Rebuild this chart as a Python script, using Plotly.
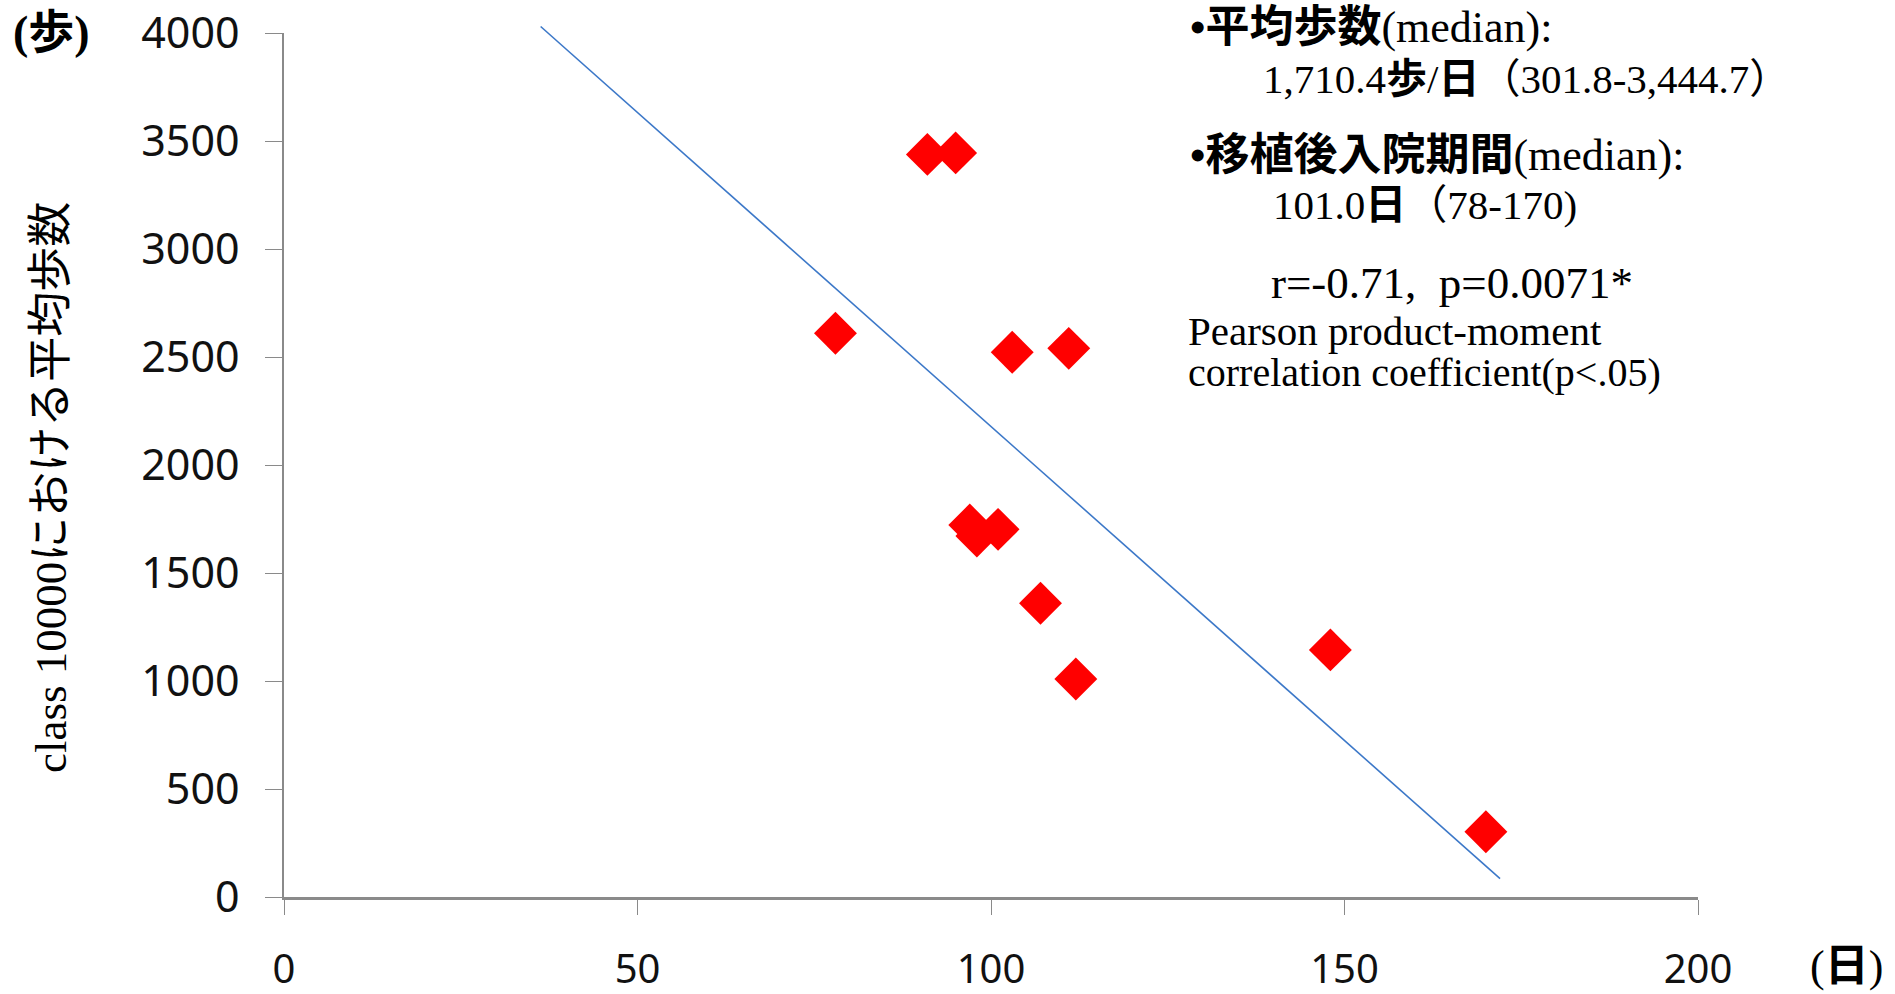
import plotly.graph_objects as go

# Data
hospital_days = [91, 95, 78, 103, 111, 97, 98, 101, 107, 112, 148, 170]
avg_steps = [3438, 3445, 2610, 2522, 2540, 1722, 1671, 1702, 1360, 1009, 1144, 302]

trend_x = [36.3, 172.0]
trend_y = [4030, 85]

x_ticks = [0, 50, 100, 150, 200]
y_ticks = [0, 500, 1000, 1500, 2000, 2500, 3000, 3500, 4000]

W, H = 1895, 994
L, R, T, B = 284, 197, 20, 97
Y_TOP = 33  # pixel position of the 4000 tick
PW, PH = W - L - R, H - T - B
main_h = H - B - Y_TOP
dom_top = main_h / PH
Y_MAX = 4000

def px(x):
    return (x - L) / PW

def py(y):
    return (H - B - y) / PH

serif = "Liberation Serif, Noto Sans CJK JP, serif"
sans = "Noto Sans, Open Sans, sans-serif"

fig = go.Figure()
fig.add_trace(go.Scatter(
    x=trend_x, y=trend_y, mode="lines", xaxis="x", yaxis="y2",
    line=dict(color="#3c78c8", width=1.6), hoverinfo="skip", showlegend=False))
fig.add_trace(go.Scatter(
    x=hospital_days, y=avg_steps, mode="markers", xaxis="x", yaxis="y",
    marker=dict(symbol="diamond", color="#ff0000", size=33, line=dict(width=0)),
    showlegend=False))

annots = [
    dict(text="<b>•平均歩数</b>(median):", x=1188, y=27, s=44),
    dict(text="1,710.4<b>歩</b>/<b>日</b>（301.8-3,444.7）", x=1261, y=79, s=41),
    dict(text="<b>•移植後入院期間</b>(median):", x=1188, y=155, s=44),
    dict(text="101.0<b>日</b>（78-170)", x=1271, y=205, s=41),
    dict(text="r=-0.71,  p=0.0071*", x=1269, y=283, s=45),
    dict(text="Pearson product-moment", x=1186, y=331, s=41),
    dict(text="correlation coefficient(p<.05)", x=1186, y=373, s=40),
]
annotations = []
for a in annots:
    annotations.append(dict(
        text=a["text"], x=px(a["x"]), y=py(a["y"]), xref="paper", yref="paper",
        xanchor="left", yanchor="middle", showarrow=False,
        font=dict(family=serif, size=a["s"], color="#000")))
annotations.append(dict(text="<b>(歩)</b>", x=px(51), y=py(33), xref="paper", yref="paper",
                        xanchor="center", yanchor="middle", showarrow=False,
                        font=dict(family=serif, size=46, color="#000")))
annotations.append(dict(text="(<b>日</b>)", x=px(1846), y=py(966), xref="paper", yref="paper",
                        xanchor="center", yanchor="middle", showarrow=False,
                        font=dict(family=serif, size=44, color="#000")))
annotations.append(dict(text="class 10000における平均歩数", x=px(51), y=py(488),
                        xref="paper", yref="paper", textangle=-90,
                        xanchor="center", yanchor="middle", showarrow=False,
                        font=dict(family=serif, size=45, color="#000")))

fig.update_layout(
    width=W, height=H,
    margin=dict(l=L, r=R, t=T, b=B, pad=0, autoexpand=False),
    paper_bgcolor="rgba(0,0,0,0)", plot_bgcolor="rgba(0,0,0,0)",
    annotations=annotations,
    xaxis=dict(range=[0, 200], tickvals=x_ticks, ticktext=[str(v) for v in x_ticks],
               anchor="y",
               showgrid=False, zeroline=False, showline=True, linecolor="#8a8a8a", linewidth=2.5,
               ticks="outside", ticklen=15, tickwidth=1.2, tickcolor="#8a8a8a",
               ticklabelstandoff=20, automargin=False,
               tickfont=dict(family=sans, size=40, color="#111")),
    yaxis=dict(range=[0, Y_MAX], domain=[0, dom_top], tickvals=y_ticks,
               ticktext=[str(v) for v in y_ticks], anchor="x",
               showgrid=False, zeroline=False, showline=True, linecolor="#8a8a8a", linewidth=1.5,
               ticks="outside", ticklen=17, tickwidth=1.2, tickcolor="#8a8a8a",
               ticklabelstandoff=17, automargin=False,
               tickfont=dict(family=sans, size=43, color="#111")),
    yaxis2=dict(range=[0, Y_MAX / dom_top], domain=[0, 1], anchor="x", visible=False,
                showgrid=False, zeroline=False, automargin=False),
)

fig.write_html("out.html")
